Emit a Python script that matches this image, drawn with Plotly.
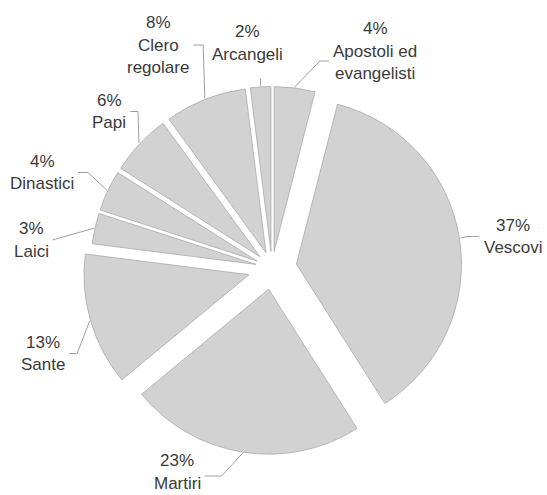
import numpy as np
import plotly.graph_objects as go

# ---- data ----
labels = ["Apostoli ed<br>evangelisti", "Vescovi", "Martiri", "Sante", "Laici",
          "Dinastici", "Papi", "Clero<br>regolare", "Arcangeli"]
values = [4, 37, 23, 13, 3, 4, 6, 8, 2]

# ---- layout / style ----
W, H = 547, 495
CX, CY = 272, 268          # pie centre in pixels
R = 165                    # pie radius in pixels
pulls = [0.10, 0.15, 0.13, 0.145, 0.10, 0.10, 0.10, 0.10, 0.10]
# label block centres (pixels) and per-label leader tweaks
label_xy = [(375, 51), (513, 236.5), (177, 472), (43, 353.5), (31, 240),
            (42, 172.5), (109, 111.5), (158, 45), (247, 43)]
leader_dy = [10, 0, 4, 0, 0, 0, 0, 0, 0]     # vertical attach offset from block centre
elbow = [9, 12, 17, 8, 0, 10, 8, 10, 0]        # length of the horizontal run
FONT = "Liberation Sans, Arial, sans-serif"
FS = 17
LINE_H = 22.6
TXT = "#3a3a3a"
LEAD = "#a0a0a0"

ARIAL = {'%': 889, ' ': 278, 'A': 667, 'C': 722, 'D': 722, 'L': 556, 'M': 833,
         'P': 667, 'S': 667, 'V': 667, 'a': 556, 'c': 500, 'd': 556, 'e': 556,
         'g': 556, 'i': 222, 'l': 222, 'n': 556, 'o': 556, 'p': 556, 'r': 333,
         's': 500, 't': 278, 'v': 500}


def text_w(t):
    return sum(ARIAL.get(ch, 556) for ch in t) / 1000.0 * FS


half = R * (1 + max(pulls))
fig = go.Figure()
fig.add_trace(go.Pie(
    labels=labels, values=values, sort=False, direction="clockwise", rotation=0,
    pull=pulls, textinfo="none", hoverinfo="label+percent", showlegend=False,
    marker=dict(colors=["#d2d2d2"] * len(values), line=dict(color="#aaaaaa", width=0.8)),
    domain=dict(x=[(CX - half) / W, (CX + half) / W],
                y=[1 - (CY + half) / H, 1 - (CY - half) / H]),
))

total = float(sum(values))
cum = np.cumsum([0] + values)
annotations = []
for i, v in enumerate(values):
    mid = np.deg2rad((cum[i] + v / 2) / total * 360)
    ux, uy = np.sin(mid), -np.cos(mid)
    pcx, pcy = CX + pulls[i] * R * ux, CY + pulls[i] * R * uy
    px, py = pcx + (R + 1) * ux, pcy + (R + 1) * uy
    lx, ly = label_xy[i]
    lines = ["%d%%" % round(v / total * 100)] + labels[i].split("<br>")
    n = len(lines)
    for k, t in enumerate(lines):
        annotations.append(dict(
            x=lx, y=ly + (k - (n - 1) / 2) * LINE_H, xref="x", yref="y",
            text=t, showarrow=False, font=dict(family=FONT, size=FS, color=TXT),
            xanchor="center", yanchor="middle"))
    hw = max(text_w(t) for t in lines) / 2
    yy = ly + leader_dy[i]
    if abs(lx - px) < hw:
        xs, ys = [px, px], [py, py - 7]
    elif lx < px:
        ex = lx + hw + 4
        xs, ys = [px, ex + elbow[i], ex], [py, yy, yy]
    else:
        ex = lx - hw - 4
        xs, ys = [px, ex - elbow[i], ex], [py, yy, yy]
    fig.add_trace(go.Scatter(x=xs, y=ys, mode="lines", hoverinfo="skip",
                             line=dict(color=LEAD, width=1), showlegend=False))

fig.update_layout(
    width=W, height=H, autosize=False,
    margin=dict(l=0, r=0, t=0, b=0),
    paper_bgcolor="white", plot_bgcolor="rgba(0,0,0,0)",
    xaxis=dict(range=[0, W], visible=False, fixedrange=True),
    yaxis=dict(range=[H, 0], visible=False, fixedrange=True),
    annotations=annotations,
)
fig.write_html("out.html",
               config={"displayModeBar": False},
               post_script="document.body.style.margin='0';"
                           "document.body.style.overflow='hidden';")
